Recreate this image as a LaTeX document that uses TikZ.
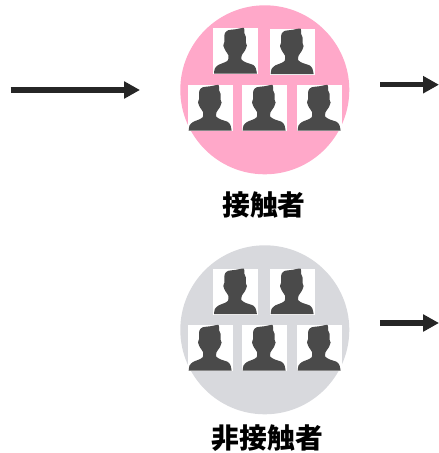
\documentclass[tikz,border=0pt]{standalone}
\usepackage{fontspec}
\usetikzlibrary{arrows.meta}
\newfontfamily\cjkfont{Noto Sans CJK JP}
\definecolor{pinkdisc}{HTML}{FFA8C9}
\definecolor{greydisc}{HTML}{D8D9DD}
\definecolor{bust}{HTML}{4A4A4A}
\definecolor{arrowdark}{HTML}{262626}
\tikzset{
  x=1pt,y=-1pt,
  disc/.style={circle,draw=none,inner sep=0pt,minimum size=169pt},
  flow/.style={draw=arrowdark,line width=5.2pt,-{Triangle[length=16pt,width=16.5pt,fill=arrowdark]}},
  caption/.style={font=\cjkfont\bfseries\fontsize{27.8}{32}\selectfont,text=black,inner sep=0pt,anchor=center},
  pics/portrait/.style={code={
    \fill[white] (0,0) rectangle (44.6,46);
    \fill[bust] plot[smooth,tension=0.45] coordinates {
      (0.7,45.6) (1.5,40.5) (5,37) (11.5,34.3) (14.8,32) (15,27) (12.2,22.7)
      (10,17.5) (11.2,13.7) (11,8) (12,4.5) (15,2.2) (22,1.3) (30.6,0) (31,5)
      (32.6,9) (32.6,14.7) (33.6,17.5) (31.7,22.5) (28.6,27) (28.2,31.5)
      (32.4,34.3) (40,37) (42.6,40.5) (43.6,45.6)} -- cycle;
  }}
}
\begin{document}
\begin{tikzpicture}
\useasboundingbox (0,0) rectangle (439,453);
% discs
\node[disc,fill=pinkdisc] (contact) at (264.8,89.8) {};
\node[disc,fill=greydisc] (noncontact) at (264.8,329.8) {};
% portraits, upper group
\pic (a1) at (213.3,28) {portrait};
\pic (a2) at (270,28.6) {portrait};
\pic (a3) at (188,85) {portrait};
\pic (a4) at (242,85) {portrait};
\pic (a5) at (297,85) {portrait};
% portraits, lower group
\pic (b1) at (213.3,268.6) {portrait};
\pic (b2) at (270,268.6) {portrait};
\pic (b3) at (188,325) {portrait};
\pic (b4) at (242,325) {portrait};
\pic (b5) at (297,325) {portrait};
% captions
\node[caption] (contactlabel) at (264,205) {接触者};
\node[caption] (noncontactlabel) at (267.5,438) {非接触者};
% arrows
\coordinate (in0) at (10.7,90);
\coordinate (in1) at (140,90);
\coordinate (o0) at (380,84.7);
\coordinate (o1) at (439,84.7);
\coordinate (n0) at (380,323);
\coordinate (n1) at (439,323);
\draw[flow] (in0) -- (in1);
\draw[flow] (o0) -- (o1);
\draw[flow] (n0) -- (n1);
\end{tikzpicture}
\end{document}
